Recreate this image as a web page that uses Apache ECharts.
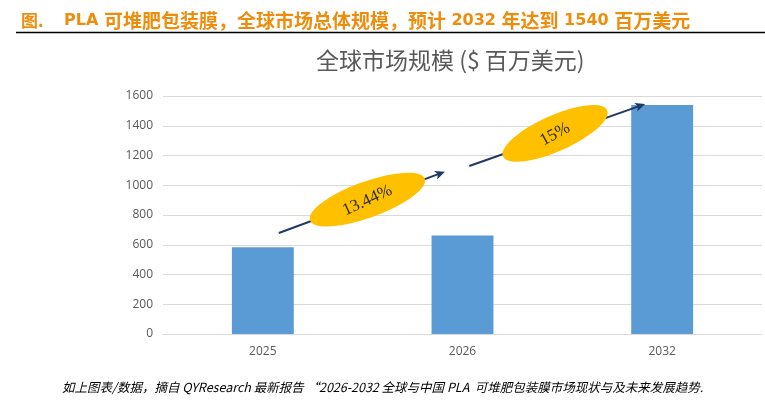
<!DOCTYPE html>
<html>
<head>
<meta charset="utf-8">
<script src="https://cdn.jsdelivr.net/npm/echarts@6/dist/echarts.min.js"></script>
<style>html,body{margin:0;padding:0;background:#fff;}#c{width:765px;height:401px;}</style>
</head>
<body>
<div id="c"></div>
<script>
const categories = ['2025', '2026', '2032'];
const marketSize = [583, 663, 1540];
const growthLabels = ['13.44%', '15%'];
const headerPrefix = '图.';
const headerText = 'PLA 可堆肥包装膜，全球市场总体规模，预计 2032 年达到 1540 百万美元';
const chartTitle = '全球市场规模 ($ 百万美元)';
const footerText = '如上图表/数据，摘自 QYResearch 最新报告 “2026-2032 全球与中国 PLA  可堆肥包装膜市场现状与及未来发展趋势.';

const chart = echarts.init(document.getElementById('c'), null, {renderer: 'canvas'});

// split header into CJK / latin runs for rich text styling
function richRuns(str) {
  const runs = str.match(/[\u3000-\u9fff\uff00-\uffef]+|[^\u3000-\u9fff\uff00-\uffef]+/g) || [];
  return runs.map(r => (/[\u3000-\u9fff\uff00-\uffef]/.test(r) ? '{c|' : '{l|') + r + '}').join('');
}

// annotation geometry in data units: [x1, y1, x2, y2, ellipseX, ellipseY, rx, ry, angleDeg]
const annotationGeom = [
  [0.08, 679, 0.912, 1091, 0.524, 904, 61, 18, 20],
  [1.034, 1129, 1.915, 1546, 1.464, 1349, 57, 18, 24]
];

const orange = '#ee8d0c';
const option = {
  animation: false,
  backgroundColor: '#fff',
  title: [
    {
      text: '{p|' + headerPrefix + '}' + richRuns(headerText),
      left: 16, top: 6,
      textStyle: {
        rich: {
          p: {fontFamily: 'Noto Sans CJK SC', fontWeight: 'bold', fontSize: 17, color: orange, width: 43},
          c: {fontFamily: 'Noto Sans CJK SC', fontWeight: 'bold', fontSize: 19, color: orange},
          l: {fontFamily: 'DejaVu Sans', fontWeight: 'bold', fontSize: 16, color: orange}
        }
      }
    },
    {
      text: chartTitle,
      left: 311, top: 44,
      textStyle: {fontFamily: 'Noto Sans CJK SC', fontWeight: 'normal', fontSize: 23, color: '#595959'}
    },
    {
      text: footerText,
      left: 57, top: 376,
      textStyle: {fontFamily: 'Noto Sans CJK SC', fontStyle: 'italic', fontWeight: 'normal', fontSize: 12.5, color: '#000'}
    }
  ],
  graphic: [
    {type: 'line', shape: {x1: 16, y1: 32.5, x2: 765, y2: 32.5}, style: {stroke: '#000', lineWidth: 1.5}}
  ],
  grid: {left: 163, right: 3, top: 96, bottom: 67},
  xAxis: [
    {
      type: 'category', data: categories,
      axisLine: {lineStyle: {color: '#d9d9d9'}},
      axisTick: {show: false},
      axisLabel: {color: '#595959', fontSize: 12, fontFamily: 'Open Sans', margin: 12}
    },
    {type: 'value', min: -0.5, max: 2.5, show: false}
  ],
  yAxis: {
    type: 'value', min: 0, max: 1600, interval: 200,
    axisLine: {show: false}, axisTick: {show: false},
    splitLine: {lineStyle: {color: '#d9d9d9', width: 1}},
    axisLabel: {color: '#595959', fontSize: 12, fontFamily: 'Open Sans', margin: 10, formatter: v => String(v)}
  },
  series: [
    {
      type: 'bar', data: marketSize, barWidth: '31%',
      itemStyle: {color: '#5b9bd5'}, z: 2
    },
    {
      type: 'custom', xAxisIndex: 1, yAxisIndex: 0, z: 5,
      data: annotationGeom.map((g, i) => g.concat([i])),
      renderItem: function (params, api) {
        const p1 = api.coord([api.value(0), api.value(1)]);
        const p2 = api.coord([api.value(2), api.value(3)]);
        const c = api.coord([api.value(4), api.value(5)]);
        const rx = api.value(6), ry = api.value(7);
        const ang = api.value(8) * Math.PI / 180;
        const label = growthLabels[api.value(9)];
        const dx = p2[0] - p1[0], dy = p2[1] - p1[1];
        const len = Math.sqrt(dx * dx + dy * dy);
        const ux = dx / len, uy = dy / len;
        const hl = 10, hw = 4.5;
        const bx = p2[0] - ux * hl, by = p2[1] - uy * hl;
        const head = [
          p2,
          [bx - uy * hw, by + ux * hw],
          [bx + ux * 2.5, by + uy * 2.5],
          [bx + uy * hw, by - ux * hw]
        ];
        return {
          type: 'group',
          children: [
            {type: 'line', shape: {x1: p1[0], y1: p1[1], x2: bx + ux * 3, y2: by + uy * 3}, style: {stroke: '#1f3864', lineWidth: 2}},
            {type: 'polygon', shape: {points: head}, style: {fill: '#1f3864'}},
            {type: 'ellipse', x: c[0], y: c[1], rotation: ang, shape: {cx: 0, cy: 0, rx: rx, ry: ry}, style: {fill: '#ffc000'}},
            {type: 'text', x: c[0], y: c[1] + 1, rotation: ang + 0.08, style: {text: label, fill: '#2a2a2a', font: '17px "Liberation Serif"', align: 'center', verticalAlign: 'middle'}}
          ]
        };
      }
    }
  ]
};
chart.setOption(option);
</script>
</body>
</html>
